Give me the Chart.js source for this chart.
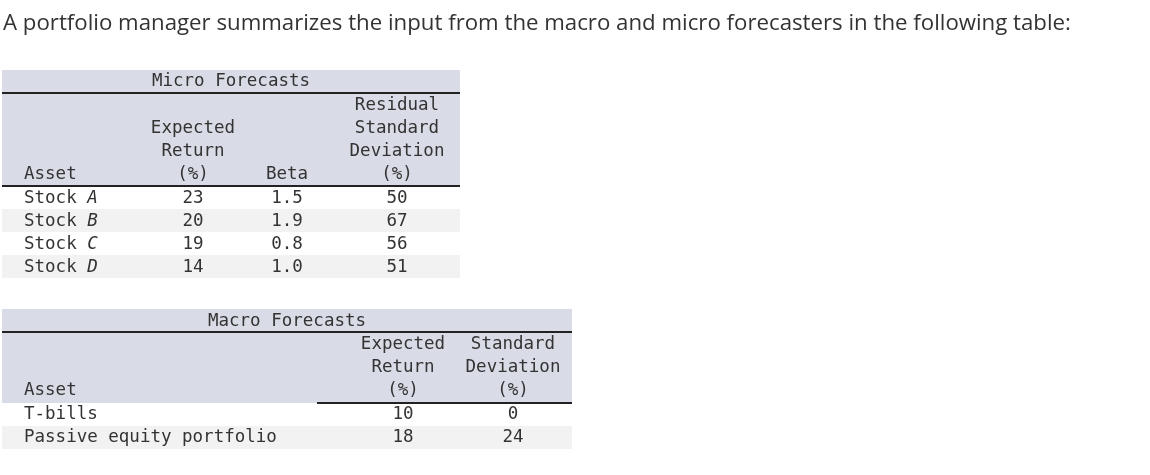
<!DOCTYPE html>
<html><head><meta charset="utf-8">
<script src="https://cdn.jsdelivr.net/npm/chart.js@4"></script>
<style>html,body{margin:0;padding:0;background:#fff}#w{width:1150px;height:475px}</style>
</head><body><div id="w"><canvas id="c"></canvas></div>
<script>
const introText = "A portfolio manager summarizes the input from the macro and micro forecasters in the following table:";
const microTitle = "Micro Forecasts";
const microHeaders = [["Asset"], ["Expected", "Return", "(%)"], ["Beta"], ["Residual", "Standard", "Deviation", "(%)"]];
const stockLetters = ["A", "B", "C", "D"];
const microExpReturn = [23, 20, 19, 14];
const microBeta = [1.5, 1.9, 0.8, 1.0];
const microResidSD = [50, 67, 56, 51];
const macroTitle = "Macro Forecasts";
const macroHeaders = [["Asset"], ["Expected", "Return", "(%)"], ["Standard", "Deviation", "(%)"]];
const macroAssets = ["T-bills", "Passive equity portfolio"];
const macroExpReturn = [10, 18];
const macroSD = [0, 24];

const MONO = '17.5px "DejaVu Sans Mono"';
const tablePlugin = {
  id: 'table',
  afterDraw(chart) {
    const ctx = chart.ctx, X = v => chart.scales.x.getPixelForValue(v), Y = v => chart.scales.y.getPixelForValue(v);
    const rect = (x0, y0, x1, y1, c) => { ctx.fillStyle = c; ctx.fillRect(X(x0), Y(y0), X(x1) - X(x0), Y(y1) - Y(y0)); };
    const line = (x0, x1, y) => { ctx.fillStyle = '#222'; ctx.fillRect(X(x0), Y(y) - 1, X(x1) - X(x0), 2); };
    const txt = (s, x, y, align, font) => { ctx.font = font || MONO; ctx.textAlign = align; ctx.textBaseline = 'middle'; ctx.fillStyle = '#333'; ctx.fillText(s, X(x), Y(y)); };
    ctx.save();
    // intro
    let fs = 20; ctx.font = fs + 'px "Open Sans"';
    fs = fs * 1068 / ctx.measureText(introText).width;
    txt(introText, 3, 24, 'left', fs.toFixed(2) + 'px "Open Sans"');
    const HB = '#d9dce6', ALT = '#f2f2f2';
    // micro
    rect(2, 70, 460, 186, HB);
    rect(2, 209, 460, 232, ALT); rect(2, 255, 460, 278, ALT);
    line(2, 460, 93); line(2, 460, 186);
    txt(microTitle, 231, 81, 'center');
    const mcx = [24, 193, 287, 397];
    microHeaders.forEach((h, i) => h.forEach((s, j) => {
      const y = 174 - (h.length - 1 - j) * 23;
      txt(s, mcx[i], y, i === 0 ? 'left' : 'center');
    }));
    stockLetters.forEach((L, r) => {
      const y = 198 + r * 23;
      txt("Stock ", 24, y, 'left');
      ctx.font = MONO; const w = ctx.measureText("Stock ").width;
      txt(L, 24 + w, y, 'left', 'italic ' + MONO);
      txt(String(microExpReturn[r]), mcx[1], y, 'center');
      txt(microBeta[r].toFixed(1), mcx[2], y, 'center');
      txt(String(microResidSD[r]), mcx[3], y, 'center');
    });
    // macro
    rect(2, 309, 572, 403, HB);
    rect(2, 426, 572, 449, ALT);
    line(2, 572, 332); line(317, 572, 403);
    txt(macroTitle, 287, 321, 'center');
    const Mcx = [24, 403, 513];
    macroHeaders.forEach((h, i) => h.forEach((s, j) => {
      const y = 390 - (h.length - 1 - j) * 23;
      txt(s, Mcx[i], y, i === 0 ? 'left' : 'center');
    }));
    macroAssets.forEach((a, r) => {
      const y = 414 + r * 23;
      txt(a, 24, y, 'left');
      txt(String(macroExpReturn[r]), Mcx[1], y, 'center');
      txt(String(macroSD[r]), Mcx[2], y, 'center');
    });
    ctx.restore();
  }
};
new Chart(document.getElementById('c'), {
  type: 'scatter',
  data: { datasets: [{ data: [] }] },
  options: {
    responsive: true, maintainAspectRatio: false, animation: false,
    layout: { padding: 0 },
    plugins: { legend: { display: false }, tooltip: { enabled: false } },
    scales: {
      x: { type: 'linear', min: 0, max: 1150, display: false },
      y: { type: 'linear', min: 0, max: 475, reverse: true, display: false }
    }
  },
  plugins: [tablePlugin]
});
</script></body></html>
